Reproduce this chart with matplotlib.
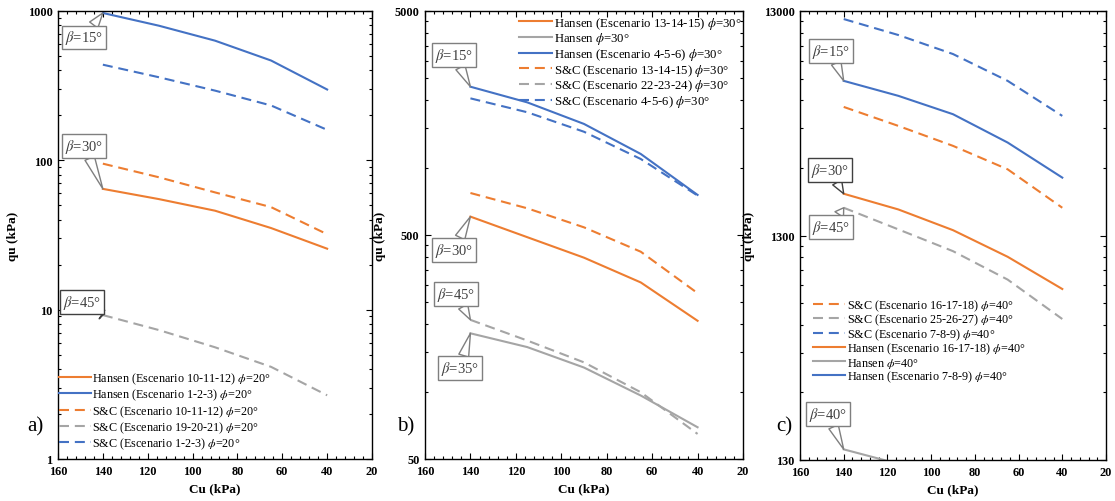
import matplotlib
matplotlib.use("Agg")
import matplotlib.pyplot as plt
from matplotlib.ticker import FixedLocator, MultipleLocator, NullFormatter

plt.rcParams['font.family'] = ['Liberation Serif', 'DejaVu Serif']
plt.rcParams['mathtext.fontset'] = 'stix'

BLUE = '#4472C4'
ORANGE = '#ED7D31'
GRAY = '#A5A5A5'

cu = [140, 115, 90, 65, 40]

# Panel a (phi = 20)
a_hansen_10 = [64.4, 55, 46, 35.2, 25.6]
a_hansen_1 = [970, 797, 633, 466, 298]
a_sc_10 = [95, 77, 61, 48.6, 32]
a_sc_19 = [9.2, 7.3, 5.6, 4.14, 2.67]
a_sc_1 = [437, 360, 293, 233, 160]

# Panel b (phi = 30)
b_hansen_13 = [604, 489, 396, 307, 207]
b_hansen_gray = [182, 158, 128, 96, 69.3]
b_hansen_4 = [2296, 1955, 1566, 1150, 755]
b_sc_13 = [770, 658, 541, 421, 275]
b_sc_22 = [209, 169, 135, 99.3, 64.7]
b_sc_4 = [2037, 1766, 1445, 1092, 750]

# Panel c (phi = 40)
c_sc_16 = [4860, 4000, 3260, 2563, 1728]
c_sc_25 = [1728, 1384, 1107, 827, 552]
c_sc_7 = [11970, 10160, 8360, 6350, 4433]
c_hansen_16 = [1995, 1698, 1373, 1045, 751]
c_hansen_gray = [145, 125, 100, 75, 55]
c_hansen_7 = [6350, 5445, 4510, 3373, 2354]

x_ticks = [160, 140, 120, 100, 80, 60, 40, 20]

W, H = 1115, 502
fig = plt.figure(figsize=(W / 100, H / 100), dpi=100)

def px_axes(l, r, t, b):
    return fig.add_axes([l / W, 1 - b / H, (r - l) / W, (b - t) / H])

axA = px_axes(58, 372, 12, 460)
axB = px_axes(425, 743, 12, 460)
axC = px_axes(800, 1106, 12, 461)

DASH = (4.8, 2.8)
LW = 1.5

def line(ax, y, color, dashed, label):
    if dashed:
        ax.plot(cu, y, color=color, lw=LW, dashes=DASH, label=label)
    else:
        ax.plot(cu, y, color=color, lw=LW, label=label)

def setup(ax, lo, hi):
    ax.set_yscale('log')
    ax.set_xlim(160, 20)
    ax.set_ylim(lo, hi)
    ax.xaxis.set_major_locator(FixedLocator(x_ticks))
    ax.xaxis.set_minor_locator(MultipleLocator(4))
    majors = []
    v = lo
    while v <= hi * 1.001:
        majors.append(v)
        v *= 10
    minors = [m * k for m in majors[:-1] for k in range(2, 10)]
    ax.yaxis.set_major_locator(FixedLocator(majors))
    ax.yaxis.set_minor_locator(FixedLocator(minors))
    ax.yaxis.set_minor_formatter(NullFormatter())
    ax.set_yticklabels([str(int(m)) for m in majors])
    ax.set_xticklabels([str(t) for t in x_ticks])
    ax.tick_params(which='both', direction='in', top=True, right=True, width=0.8)
    ax.tick_params(which='major', length=4, labelsize=8.8, pad=4)
    ax.tick_params(which='minor', length=2)
    for lab in ax.get_xticklabels() + ax.get_yticklabels():
        lab.set_fontweight('bold')
    for s in ax.spines.values():
        s.set_linewidth(1.0)
    ax.set_xlabel('Cu (kPa)', fontsize=9.5, fontweight='bold', labelpad=4)
    ax.set_ylabel('qu (kPa)', fontsize=9.5, fontweight='bold', labelpad=6)

def callout(ax, text, x, y, dx, dy, ec='#7f7f7f'):
    ax.annotate(text, xy=(x, y), xytext=(dx, dy), textcoords='offset pixels',
                ha='center', va='center', fontsize=10.5, color='#404040',
                bbox=dict(boxstyle='square,pad=0.2', fc='white', ec=ec, lw=1.0),
                arrowprops=dict(arrowstyle='wedge,tail_width=0.7,shrink_factor=0.5',
                                fc='white', ec=ec, lw=1.0, shrinkA=0, shrinkB=0),
                zorder=5)

phi = r'$\phi$'
beta = r'$\beta$'

# ---- Panel a
setup(axA, 1, 1000)
line(axA, a_hansen_10, ORANGE, False, 'Hansen (Escenario 10-11-12) ' + phi + '=20°')
line(axA, a_hansen_1, BLUE, False, 'Hansen (Escenario 1-2-3) ' + phi + '=20°')
line(axA, a_sc_10, ORANGE, True, 'S&C (Escenario 10-11-12) ' + phi + '=20°')
line(axA, a_sc_19, GRAY, True, 'S&C (Escenario 19-20-21) ' + phi + '=20°')
line(axA, a_sc_1, BLUE, True, 'S&C (Escenario 1-2-3) ' + phi + '=20°')
callout(axA, beta + '=15°', cu[0], a_hansen_1[0], -18.5, -24.5)
callout(axA, beta + '=30°', cu[0], a_hansen_10[0], -18.5, 43)
callout(axA, beta + '=45°', cu[0], a_sc_19[0], -20.5, 13, ec='#404040')
axA.legend(loc='lower left', bbox_to_anchor=(0.0, 0.015), frameon=False,
           fontsize=8.7, handlelength=2.6, handletextpad=0.15, labelspacing=0.07,
           borderaxespad=0, borderpad=0.1)

# ---- Panel b
setup(axB, 50, 5000)
line(axB, b_hansen_13, ORANGE, False, 'Hansen (Escenario 13-14-15) ' + phi + '=30°')
line(axB, b_hansen_gray, GRAY, False, 'Hansen ' + phi + '=30°')
line(axB, b_hansen_4, BLUE, False, 'Hansen (Escenario 4-5-6) ' + phi + '=30°')
line(axB, b_sc_13, ORANGE, True, 'S&C (Escenario 13-14-15) ' + phi + '=30°')
line(axB, b_sc_22, GRAY, True, 'S&C (Escenario 22-23-24) ' + phi + '=30°')
line(axB, b_sc_4, BLUE, True, 'S&C (Escenario 4-5-6) ' + phi + '=30°')
callout(axB, beta + '=15°', cu[0], b_hansen_4[0], -16.4, 31.7)
callout(axB, beta + '=30°', cu[0], b_hansen_13[0], -16.4, -33.3)
callout(axB, beta + '=45°', cu[0], b_sc_22[0], -14, 25.7)
callout(axB, beta + '=35°', cu[0], b_hansen_gray[0], -10.4, -34.7)
axB.legend(loc='upper right', bbox_to_anchor=(1.0, 0.995), frameon=False,
           fontsize=9.2, handlelength=2.6, handletextpad=0.15, labelspacing=-0.02,
           borderaxespad=0, borderpad=0.1)

# ---- Panel c
setup(axC, 130, 13000)
line(axC, c_sc_16, ORANGE, True, 'S&C (Escenario 16-17-18) ' + phi + '=40°')
line(axC, c_sc_25, GRAY, True, 'S&C (Escenario 25-26-27) ' + phi + '=40°')
line(axC, c_sc_7, BLUE, True, 'S&C (Escenario 7-8-9) ' + phi + '=40°')
line(axC, c_hansen_16, ORANGE, False, 'Hansen (Escenario 16-17-18) ' + phi + '=40°')
line(axC, c_hansen_gray, GRAY, False, 'Hansen ' + phi + '=40°')
line(axC, c_hansen_7, BLUE, False, 'Hansen (Escenario 7-8-9) ' + phi + '=40°')
callout(axC, beta + '=15°', cu[0], c_hansen_7[0], -12.7, 30.2)
callout(axC, beta + '=30°', cu[0], c_hansen_16[0], -13.7, 23.8, ec='#404040')
callout(axC, beta + '=45°', cu[0], c_sc_25[0], -12.7, -19.2)
callout(axC, beta + '=40°', cu[0], c_hansen_gray[0], -15.7, 35)
axC.legend(loc='upper left', bbox_to_anchor=(0.04, 0.365), frameon=False,
           fontsize=8.7, handlelength=2.6, handletextpad=0.15, labelspacing=-0.07,
           borderaxespad=0, borderpad=0.1)

for lab, xp in (('a)', 27), ('b)', 397), ('c)', 776)):
    fig.text(xp / W, 1 - 427 / H, lab, fontsize=15, ha='left', va='center')

fig.savefig('out.png', dpi=100)
